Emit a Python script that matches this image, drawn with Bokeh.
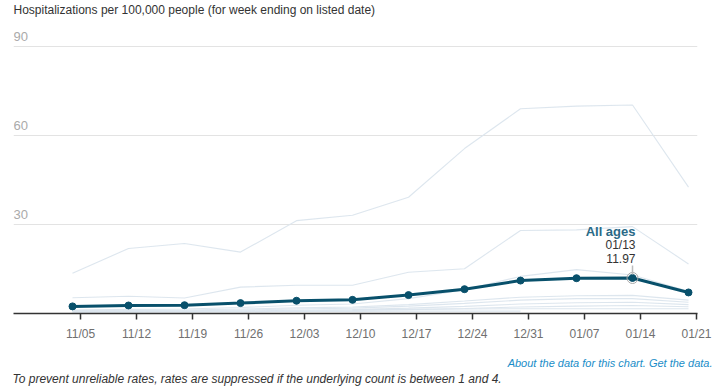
from datetime import datetime
import numpy as np
from bokeh.plotting import figure
from bokeh.models import Range1d, FixedTicker, DatetimeTickFormatter, Grid, Label, Title
from bokeh.core.properties import value
from bokeh.embed import file_html
from bokeh.resources import INLINE

# ---------------- data ----------------
week_ending = ["2023-11-04", "2023-11-11", "2023-11-18", "2023-11-25", "2023-12-02", "2023-12-09",
               "2023-12-16", "2023-12-23", "2023-12-30", "2024-01-06", "2024-01-13", "2024-01-20"]
tick_dates = ["2023-11-05", "2023-11-12", "2023-11-19", "2023-11-26", "2023-12-03", "2023-12-10",
              "2023-12-17", "2023-12-24", "2023-12-31", "2024-01-07", "2024-01-14", "2024-01-21"]
y_ticks = [30, 60, 90]
y_tick_labels = ["30", "60", "90"]

all_ages = [2.4, 2.7, 2.8, 3.5, 4.3, 4.6, 6.2, 8.2, 11.1, 11.9, 11.97, 7.1]

nan = float("nan")
age_group_series = {
    "75+":   [13.6, 21.9, 23.6, 20.7, 31.3, 33.1, 39.2, 55.6, 69.0, 69.9, 70.3, 42.6],
    "65-74": [5.3, 5.8, 5.2, 8.9, 9.5, 9.5, 13.9, 15.1, 28.0, 28.2, 29.3, 16.7],
    "50-64": [1.2, 1.4, 1.5, 2.0, 2.8, 3.2, 5.0, 8.0, 12.5, 14.8, 13.0, 7.5],
    "0-4":   [1.0, 1.1, 1.2, 1.5, 1.9, 2.2, 3.0, 4.2, 5.5, 6.0, 6.1, 4.5],
    "18-49": [0.8, 0.9, 0.9, 1.2, 1.5, 1.8, 2.5, 3.4, 4.5, 5.0, 5.0, 3.8],
    "40-49": [0.6, 0.7, 0.7, 0.9, 1.1, 1.3, 1.8, 2.4, 3.2, 3.6, 3.8, 3.0],
    "18-39": [0.4, 0.5, 0.5, 0.6, 0.8, 1.0, 1.3, 1.7, 2.2, 2.5, 2.7, 2.3],
    "5-17":  [nan, nan, nan, nan, nan, 1.3, 1.4, 1.5, 1.6, 1.6, 1.6, 1.6],
    "5-11":  [0.5, 0.5, 0.6, 0.6, 0.7, 0.7, 0.8, 0.8, 0.8, nan, nan, nan],
}

highlight_index = 10  # 01/13

title_text = "Hospitalizations per 100,000 people (for week ending on listed date)"
about_text = "About the data for this chart. Get the data."
footnote_text = "To prevent unreliable rates, rates are suppressed if the underlying count is between 1 and 4."

# ---------------- helpers ----------------
EPOCH = datetime(1970, 1, 1)
DAY_MS = 86400000.0


def to_ms(s):
    return (datetime.strptime(s, "%Y-%m-%d") - EPOCH).total_seconds() * 1000.0


x_vals = [to_ms(d) for d in week_ending]
tick_ms = [to_ms(d) for d in tick_dates]

W, H = 720, 390
frame_left, frame_right = 13, 697
frame_top, frame_bottom = 30, 313
y_end = 95.4
px_per_unit = (frame_bottom - frame_top) / y_end

x_start = x_vals[0] - 7.375 * DAY_MS
x_end = x_vals[-1] + 1.125 * DAY_MS

p = figure(width=W, height=H, output_backend="svg", toolbar_location=None,
           x_range=Range1d(x_start, x_end), y_range=Range1d(0, y_end),
           y_axis_location=None, title=None,
           min_border_left=frame_left, min_border_right=W - frame_right,
           min_border_top=frame_top, min_border_bottom=H - frame_bottom)
p.outline_line_color = None
p.background_fill_color = "white"
p.border_fill_color = "white"
for g in p.grid:
    g.visible = False

grid = Grid(dimension=1, ticker=FixedTicker(ticks=y_ticks),
            grid_line_color="#e3e3e3", grid_line_width=1)
p.add_layout(grid)

# x axis
ax = p.xaxis[0]
ax.ticker = FixedTicker(ticks=tick_ms)
fmt = "%m/%d"
ax.formatter = DatetimeTickFormatter(days=fmt, months=fmt, years=fmt, hours=fmt,
                                     minutes=fmt, seconds=fmt, milliseconds=fmt,
                                     microseconds=fmt, hourmin=fmt, minsec=fmt)
ax.axis_line_color = "#333333"
ax.axis_line_width = 1.5
ax.major_tick_line_color = "#333333"
ax.major_tick_line_width = 1.5
ax.major_tick_out = 6
ax.major_tick_in = 0
ax.minor_tick_line_color = None
ax.major_label_text_font = "Liberation Sans"
ax.major_label_text_font_size = "12px"
ax.major_label_text_color = "#707070"
ax.major_label_standoff = 7

# y tick labels as text above gridlines
p.text(x=[x_start] * len(y_ticks), y=y_ticks, text=y_tick_labels,
       text_font=value("Liberation Sans"), text_font_size="13px",
       text_color="#aaaaaa", text_align="left", text_baseline="bottom", y_offset=-6)

# faint age-group lines
for name, vals in age_group_series.items():
    p.line(x_vals, vals, line_color="#dbe5ed", line_width=1.1, line_alpha=0.95)

# main series
p.line(x_vals, all_ages, line_color="#08506b", line_width=3)
p.scatter(x_vals, all_ages, size=7, fill_color="#08506b", line_color="#08506b")

# highlight
hx = x_vals[highlight_index]
hy = all_ages[highlight_index]
p.scatter([hx], [hy], size=11, fill_color=None, line_color="#aaaaaa", line_width=1)
p.segment(x0=[hx], y0=[hy + 3.5 / px_per_unit], x1=[hx], y1=[hy + 12.5 / px_per_unit],
          line_color="#bbbbbb", line_width=1.5)

p.add_layout(Label(x=hx, y=hy, x_offset=3, y_offset=46, text="All ages",
                   text_font="Liberation Sans", text_font_size="13px", text_font_style="bold",
                   text_color="#2a6a87", text_align="right", text_baseline="middle"))
p.add_layout(Label(x=hx, y=hy, x_offset=3, y_offset=32.5,
                   text=datetime.strptime(week_ending[highlight_index], "%Y-%m-%d").strftime("%m/%d"),
                   text_font="Liberation Sans", text_font_size="12px",
                   text_color="#333333", text_align="right", text_baseline="middle"))
p.add_layout(Label(x=hx, y=hy, x_offset=3, y_offset=19, text=f"{hy:.2f}",
                   text_font="Liberation Sans", text_font_size="12px",
                   text_color="#333333", text_align="right", text_baseline="middle"))

# title & footnotes (spacer titles hold the gaps)
def spacer(standoff):
    return Title(text="\u00a0", text_font_size="1px", standoff=standoff)

p.add_layout(spacer(11), "above")
p.add_layout(Title(text=title_text, align="left", text_font="Liberation Sans",
                   text_font_size="12px", text_font_style="normal", text_color="#333333",
                   standoff=0), "above")
p.add_layout(spacer(8.3), "below")
p.add_layout(Title(text=about_text, align="right", text_font="Liberation Sans",
                   text_font_size="11px", text_font_style="italic", text_color="#1a8dc8",
                   standoff=1, offset=-15), "below")
p.add_layout(Title(text=footnote_text, align="left", text_font="Liberation Sans",
                   text_font_size="12px", text_font_style="italic", text_color="#333333",
                   standoff=1, offset=-1), "below")

open("out.html", "w").write(file_html(p, INLINE))
